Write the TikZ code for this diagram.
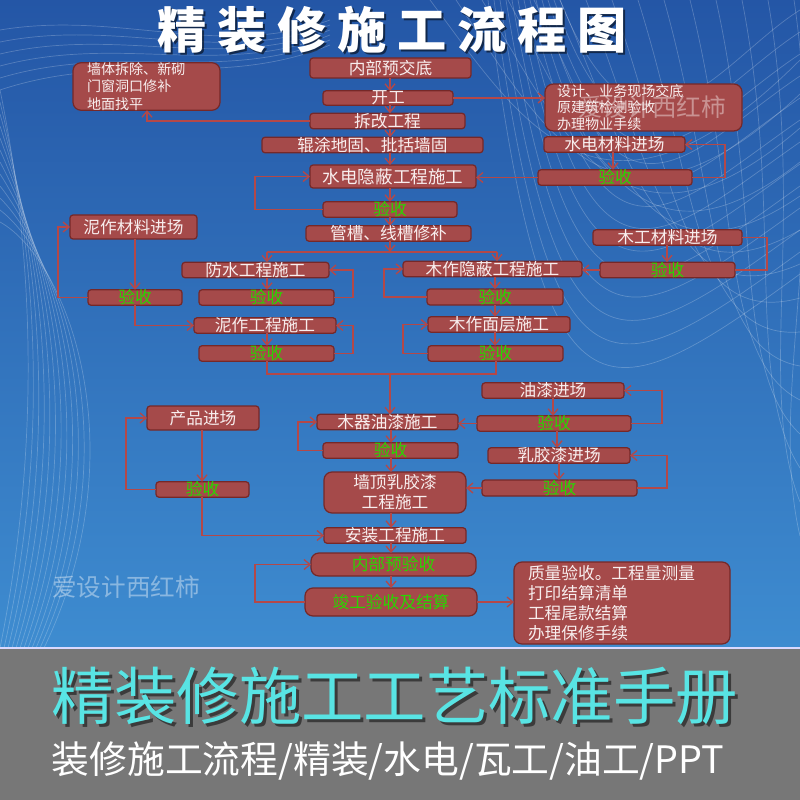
\documentclass[tikz,border=0pt]{standalone}
\usepackage{fontspec}
\setmainfont{Noto Sans CJK SC}
\usetikzlibrary{arrows.meta}
\definecolor{boxfill}{RGB}{165,74,74}
\definecolor{boxline}{RGB}{118,40,40}
\definecolor{arr}{RGB}{180,72,72}
\definecolor{okgreen}{RGB}{40,215,0}
\definecolor{boxtext}{RGB}{248,238,238}
\definecolor{bgtop}{RGB}{36,86,166}
\definecolor{bgbot}{RGB}{62,140,208}
\definecolor{cyantext}{RGB}{88,228,228}
\definecolor{band}{RGB}{119,119,119}
\tikzset{
 box/.style={draw=boxline, fill=boxfill, line width=0.7pt, rounded corners=0.06cm,
   text=boxtext, inner sep=0pt, outer sep=0pt, font=\fontsize{9.5}{11.5}\selectfont},
 bigbox/.style={rounded corners=0.16cm},
 ok/.style={text=okgreen},
 conn/.style={draw=arr, line width=0.75pt},
 arrow/.style={conn, -{Straight Barb[length=1.2mm,width=2mm]}},
 mesh/.style={draw=white, line width=0.4pt, opacity=0.22},
 wmark/.style={text=white, opacity=0.4, font=\fontsize{14}{16}\selectfont},
 titlefont/.style={font=\fontsize{28}{32}\selectfont\bfseries\addfontfeature{LetterSpace=22}},
}
% optional style, name, x1, y1, x2, y2, text
\newcommand\bx[7][]{\node[box,#1,minimum width={(#5-#3)*0.02cm},minimum height={(#6-#4)*0.02cm}] (#2) at ({(#3+#5)/2},{(#4+#6)/2}) {#7};}
\begin{document}
\begin{tikzpicture}[x=0.02cm,y=-0.02cm]
\useasboundingbox (0,0) rectangle (800,800);
% background
\shade[top color=bgtop, bottom color=bgbot] (0,0) rectangle (800,648);
% mesh decoration
\foreach \i in {0,...,14}{
  \draw[mesh] ({430+26*\i},0) .. controls ({520+22*\i},{120+8*\i}) and ({600+12*\i},{260+10*\i}) .. (800,{60+34*\i});
}
\foreach \j in {0,...,12}{
  \draw[mesh] (800,{10+22*\j}) .. controls ({720-10*\j},{60+30*\j}) and ({640-8*\j},{200+20*\j}) .. ({560-6*\j},0);
}
\foreach \i in {0,...,11}{
  \draw[mesh] ({4*\i},648) .. controls ({40+9*\i},450) and ({35+3*\i},260) .. (0,{90+12*\i});
}
\foreach \i in {0,...,5}{
  \draw[mesh] (0,{30+12*\i}) .. controls (120,{10+8*\i}) and (220,{60+6*\i}) .. (330,{20+5*\i});
}
% bottom band
\fill[band] (0,649) rectangle (800,800);
\draw[white!85!blue, line width=1.2pt] (0,648) -- (800,648);
% title
\node[text=black, opacity=0.55, titlefont] at (394,32) {精装修施工流程图};
\node[text=white, titlefont] (title) at (392,30) {精装修施工流程图};
% main chain
\bx{a1}{310}{58}{471}{78}{内部预交底}
\bx{a2}{323}{91}{453}{105}{开工}
\bx{a3}{310}{114}{465}{128}{拆改工程}
\bx{a4}{262}{138}{483}{152}{辊涂地固、批括墙固}
\bx[font=\fontsize{10}{12}\selectfont]{a5}{310}{165}{476}{188}{水电隐蔽工程施工}
\bx[ok]{a6}{323}{202}{457}{217}{验收}
\bx{a7}{306}{226}{471}{241}{管槽、线槽修补}
\bx{b1}{182}{263}{329}{277}{防水工程施工}
\bx[ok]{b2}{199}{290}{334}{305}{验收}
\bx{b3}{194}{318}{336}{333}{泥作工程施工}
\bx[ok]{b4}{199}{346}{334}{361}{验收}
\bx{c1}{403}{262}{582}{276}{木作隐蔽工程施工}
\bx[ok]{c2}{427}{289}{563}{305}{验收}
\bx{c3}{428}{317}{570}{332}{木作面层施工}
\bx[ok]{c4}{428}{346}{563}{361}{验收}
\bx{d1}{317}{415}{458}{429}{木器油漆施工}
\bx[ok]{d2}{323}{443}{458}{458}{验收}
\bx[bigbox,align=center,font=\fontsize{9.5}{11.3}\selectfont]{d3}{324}{472}{466}{513}{墙顶乳胶漆\\工程施工}
\bx{d4}{324}{528}{466}{543}{安装工程施工}
\bx[ok,bigbox]{d5}{311}{553}{476}{576}{内部预验收}
\bx[ok,bigbox]{d6}{305}{588}{477}{616}{竣工验收及结算}
\bx[bigbox,align=left,inner xsep=0.28cm,text width=3.76cm,font=\fontsize{9.5}{11.4}\selectfont]{f}{514}{562}{730}{644}{质量验收。工程量测量\\打印结算清单\\工程尾款结算\\办理保修手续}
% side boxes
\bx[bigbox,align=left,inner xsep=0.28cm,text width=2.38cm,font=\fontsize{8}{9.8}\selectfont]{tl}{73}{65}{220}{108}{墙体拆除、新砌\\门窗洞口修补\\地面找平}
\bx[bigbox,align=left,inner xsep=0.24cm,text width=3.46cm,font=\fontsize{8}{9.6}\selectfont]{tr}{545}{87}{742}{128}{设计、业务现场交底\\原建筑检测验收\\办理物业手续}
\node[wmark] (wm1) at (652,107) {爱设计西红柿};
\bx{w1}{544}{137}{685}{152}{水电材料进场}
\bx[ok]{w2}{538}{170}{692}{185}{验收}
\bx{n1}{70}{215}{197}{239}{泥作材料进场}
\bx[ok]{n2}{88}{290}{182}{305}{验收}
\bx{m1}{593}{230}{742}{245}{木工材料进场}
\bx[ok]{m2}{600}{263}{735}{277}{验收}
\bx{p1}{147}{406}{259}{430}{产品进场}
\bx[ok]{p2}{156}{482}{249}{497}{验收}
\bx{y1}{482}{383}{624}{398}{油漆进场}
\bx[ok]{y2}{477}{416}{631}{431}{验收}
\bx{r1}{488}{448}{630}{463}{乳胶漆进场}
\bx[ok]{r2}{482}{480}{637}{496}{验收}
\node[wmark] (wm2) at (126,587) {爱设计西红柿};
% helper coordinates
\coordinate (cx) at (390,0);
\coordinate (cy) at (391,0);
\coordinate (sl) at (267,252);
\coordinate (sm) at (390,252);
\coordinate (sr) at (497,252);
\coordinate (ml) at (267,374);
\coordinate (mm) at (390,374);
\coordinate (mr) at (496,374);
\coordinate (tlx) at (147,0);
\coordinate (wx) at (613,0);
\coordinate (nx) at (135,0);
\coordinate (cc) at (495,0);
\coordinate (mx) at (667,0);
\coordinate (px) at (202,0);
\coordinate (yx) at (553,0);
\coordinate (rx) at (557,0);
\coordinate (rx2) at (559,0);
% main chain arrows
\draw[arrow] (a1.south -| cx) -- (a2.north -| cx);
\draw[arrow] (a2.south -| cx) -- (a3.north -| cx);
\draw[arrow] (a3.south -| cx) -- (a4.north -| cx);
\draw[arrow] (a4.south -| cx) -- (a5.north -| cx);
\draw[arrow] (a5.south -| cx) -- (a6.north -| cx);
\draw[arrow] (a6.south -| cx) -- (a7.north -| cx);
\draw[arrow] (a2.east) -- (a2.east -| tr.west);
\draw[arrow] (a3.west) -| (tl.south -| tlx);
\draw[arrow] (a6.west) -- ++(-68,0) |- (a5.west);
% water-electric materials
\draw[arrow] (w1.south -| wx) -- (w2.north -| wx);
\draw[arrow] (w2.east) -- ++(33,0) |- (w1.east);
\draw[arrow] (w2.west) -- (w2.west -| a5.east);
% split
\draw[arrow] (a7.south -| cx) -- (sm);
\draw[conn] (sl) -- (sr);
\draw[arrow] (sl) -- (b1.north -| sl);
\draw[arrow] (sr) -- (c1.north -| sr);
% left branch
\draw[arrow] (b1.south -| sl) -- (b2.north -| sl);
\draw[arrow] (b3.south -| sl) -- (b4.north -| sl);
\draw[arrow] (b2.east) -- ++(19,0) |- (b1.east);
\draw[arrow] (b4.east) -- ++(19,0) |- (b3.east);
\draw[arrow] (n1.south -| nx) -- (n2.north -| nx);
\draw[arrow] (n2.west) -- ++(-30,0) |- (n1.west);
\draw[arrow] (n2.south -| nx) |- (b3.west);
% right branch
\draw[arrow] (c1.south -| cc) -- (c2.north -| cc);
\draw[arrow] (c2.south -| cc) -- (c3.north -| cc);
\draw[arrow] (c3.south -| cc) -- (c4.north -| cc);
\draw[arrow] (c2.west) -- ++(-43,0) |- (c1.west);
\draw[arrow] (c4.west) -- ++(-25,0) |- (c3.west);
\draw[arrow] (m1.south -| mx) -- (m2.north -| mx);
\draw[conn] (m1.east) -- ++(25,0) |- (m2.east);
\draw[arrow] (m2.west) -- (m2.west -| c1.east);
% merge
\draw[conn] (b4.south -| ml) -- (ml) -- (mr) -- (c4.south -| mr);
\draw[arrow] (mm) -- (d1.north -| mm);
% lower chain
\draw[arrow] (d1.south -| cy) -- (d2.north -| cy);
\draw[arrow] (d2.south -| cy) -- (d3.north -| cy);
\draw[arrow] (d3.south -| cy) -- (d4.north -| cy);
\draw[arrow] (d4.south -| cy) -- (d5.north -| cy);
\draw[arrow] (d5.south -| cy) -- (d6.north -| cy);
\draw[arrow] (d2.west) -- ++(-25,0) |- (d1.west);
\draw[arrow] (d6.west) -- ++(-50,0) |- (d5.west);
\draw[arrow] (d6.east) -- (d6.east -| f.west);
% paint
\draw[arrow] (y1.south -| yx) -- (y2.north -| yx);
\draw[arrow] (y2.east) -- ++(31,0) |- (y1.east);
\draw[arrow] (y2.west) -- (y2.west -| d1.east);
\draw[arrow] (y2.south -| rx) -- (r1.north -| rx);
\draw[arrow] (r1.south -| rx2) -- (r2.north -| rx2);
\draw[arrow] (r2.east) -- ++(30,0) |- (r1.east);
\draw[arrow] (r2.west) -- (r2.west -| d3.east);
% products
\draw[arrow] (p1.south -| px) -- (p2.north -| px);
\draw[arrow] (p2.west) -- ++(-30,0) |- (p1.west);
\draw[arrow] (p2.south -| px) |- (d4.west);
% bottom banner
\node[text=black, opacity=0.5, font=\fontsize{35.5}{38}\selectfont] at (398,699) {精装修施工工艺标准手册};
\node[text=cyantext, font=\fontsize{35.5}{38}\selectfont] (big) at (395,696) {精装修施工工艺标准手册};
\node[text=white, font=\fontsize{21.5}{24}\selectfont] (sub) at (388,761) {装修施工流程/精装/水电/瓦工/油工/PPT};
\end{tikzpicture}
\end{document}
